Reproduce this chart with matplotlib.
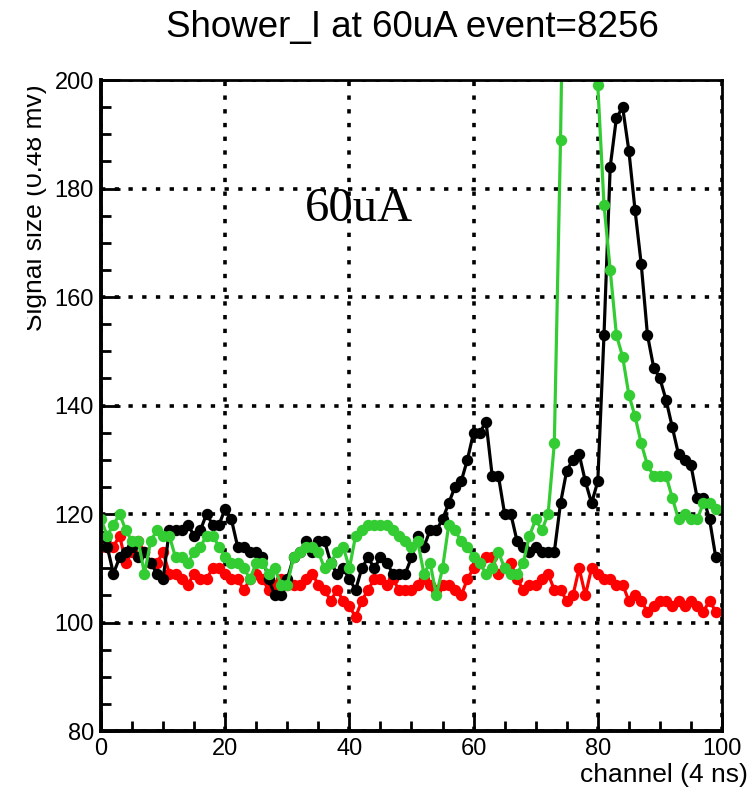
import numpy as np
import matplotlib.pyplot as plt
from matplotlib.ticker import MultipleLocator
from matplotlib.patches import Rectangle

# channel numbers and the three traces (values in units of 0.48 mV)
channel = np.arange(100)

black = [116, 114, 109, 112, 113, 114, 112, 113, 111, 109,
         108, 117, 117, 117, 118, 116, 117, 120, 118, 118,
         121, 119, 114, 114, 113, 113, 112, 108, 105, 105,
         108, 112, 113, 115, 113, 115, 115, 111, 109, 110,
         108, 106, 110, 112, 110, 112, 111, 109, 109, 109,
         112, 116, 114, 117, 117, 119, 122, 125, 126, 130,
         135, 135, 137, 127, 127, 120, 120, 115, 114, 113,
         114, 113, 113, 113, 122, 128, 130, 131, 126, 122,
         126, 153, 184, 193, 195, 187, 176, 166, 153, 147,
         145, 141, 136, 131, 130, 129, 123, 123, 119, 112]

green = [119, 116, 118, 120, 117, 115, 115, 109, 115, 117,
         116, 116, 112, 112, 111, 113, 114, 116, 116, 114,
         112, 111, 111, 110, 108, 111, 111, 109, 110, 107,
         107, 112, 113, 114, 114, 113, 110, 111, 113, 114,
         110, 116, 117, 118, 118, 118, 118, 117, 116, 115,
         114, 115, 109, 111, 105, 110, 118, 117, 115, 114,
         112, 111, 109, 110, 113, 110, 109, 109, 111, 116,
         119, 117, 120, 133, 189, 260, 300, 310, 290, 260,
         199, 177, 165, 153, 149, 142, 138, 133, 129, 127,
         127, 127, 123, 119, 120, 119, 119, 122, 122, 121]

red = [114, 114, 114, 116, 111, 113, 115, 113, 111, 111,
       113, 109, 109, 108, 107, 109, 108, 108, 110, 110,
       109, 108, 108, 106, 108, 109, 108, 106, 107, 108,
       107, 107, 107, 108, 109, 107, 106, 104, 106, 104,
       103, 101, 104, 106, 108, 108, 107, 108, 106, 106,
       106, 107, 108, 107, 106, 107, 107, 106, 105, 108,
       110, 111, 112, 112, 109, 110, 111, 108, 106, 107,
       107, 108, 109, 106, 106, 104, 105, 110, 105, 110,
       109, 108, 108, 107, 107, 104, 105, 104, 102, 103,
       104, 104, 103, 104, 103, 104, 103, 102, 104, 102]

plt.rcParams['font.family'] = ['Liberation Sans', 'DejaVu Sans']

fig = plt.figure(figsize=(7.56, 7.89), dpi=100)
ax = fig.add_axes([0.1336, 0.0735, 0.8214, 0.8251])

style = dict(marker='o', markersize=7.2, linewidth=2.3)
ax.plot(channel, red, color='#ff0000', **style)
ax.plot(channel, black, color='black', **style)
ax.plot(channel, green, color='#33cc33', **style)

ax.set_xlim(0, 100)
ax.set_ylim(80, 200)
ax.xaxis.set_major_locator(MultipleLocator(20))
ax.xaxis.set_minor_locator(MultipleLocator(5))
ax.yaxis.set_major_locator(MultipleLocator(20))
ax.yaxis.set_minor_locator(MultipleLocator(5))
ax.tick_params(which='both', direction='in', labelsize=17, width=2)
ax.tick_params(which='major', length=14, pad=5)
ax.tick_params(which='minor', length=7)
ax.grid(True, which='major', color='black', linestyle=(0, (1.2, 2.6)), linewidth=2.6)

for side in ['left', 'bottom']:
    ax.spines[side].set_linewidth(2.8)
for side in ['top', 'right']:
    ax.spines[side].set_linewidth(2)

ax.text(32.8, 174, '60uA', fontsize=35, family=['Liberation Serif', 'DejaVu Serif'])

fig.text(0.545, 1 - 28 / 789, 'Shower_I at 60uA event=8256', fontsize=26.5,
         ha='center', va='center')
fig.text(748 / 756, 1 - 775 / 789, 'channel (4 ns)', fontsize=19,
         ha='right', va='center')
fig.text(47 / 756, 1 - 84 / 789, 'Signal size (0.48 mv)', fontsize=19,
         rotation=90, ha='right', va='top')
# the source image is cropped through the axis title
fig.patches.append(Rectangle((0, 0), 27 / 756, 1, transform=fig.transFigure,
                             facecolor='white', edgecolor='none', zorder=5))

fig.savefig('out.png', dpi=100)
